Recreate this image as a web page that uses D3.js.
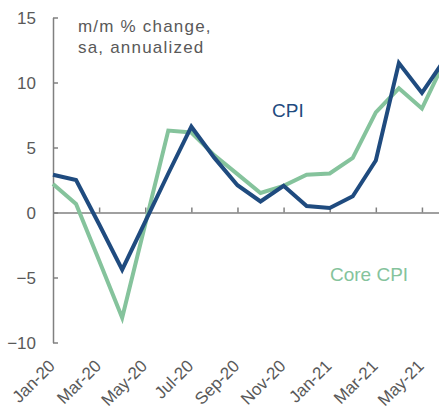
<!DOCTYPE html>
<html>
<head>
<meta charset="utf-8">
<script src="https://cdn.jsdelivr.net/npm/d3@7"></script>
<style>
  body { margin: 0; background: #ffffff; }
  svg { display: block; overflow: hidden; }
  .axis text { font-family: "Liberation Sans", Arial, sans-serif; font-size: 17px; fill: #595959; }
  .axis path, .axis line { stroke: #808080; stroke-width: 1.5px; }
</style>
</head>
<body>
<script>
// months on the x axis
var months = ["Jan-20", "Feb-20", "Mar-20", "Apr-20", "May-20", "Jun-20", "Jul-20", "Aug-20", "Sep-20",
  "Oct-20", "Nov-20", "Dec-20", "Jan-21", "Feb-21", "Mar-21", "Apr-21", "May-21", "Jun-21"];

// m/m % change, sa, annualized
var cpi = [2.9, 2.5, -0.9, -4.4, -0.7, 3.0, 6.6, 4.2, 2.1, 0.85, 2.05, 0.5, 0.35, 1.25, 4.0, 11.5, 9.2, 11.8];
var coreCpi = [2.2, 0.65, -3.7, -8.1, -0.9, 6.3, 6.15, 4.4, 2.95, 1.5, 2.05, 2.9, 3.0, 4.2, 7.7, 9.55, 8.0, 11.7];

// axis ticks
var yTicks = [-10, -5, 0, 5, 10, 15];
var xTicks = ["Jan-20", "Mar-20", "May-20", "Jul-20", "Sep-20", "Nov-20", "Jan-21", "Mar-21", "May-21"];

var width = 439;
var height = 406;
var blue = "#1f4b7f";
var green = "#85c39c";

var svg = d3.select("body").append("svg")
    .attr("width", width)
    .attr("height", height);

// scales (the last month runs past the right edge, like the original)
var xScale = d3.scalePoint()
    .domain(months)
    .range([53, 445]);

var yScale = d3.scaleLinear()
    .domain([-10, 15])
    .range([342.5, 17.5]);

// y axis, ticks pointing inwards
var yAxis = svg.append("g")
    .attr("class", "axis")
    .attr("transform", "translate(53,0)")
    .call(d3.axisLeft(yScale).tickValues(yTicks).tickSizeInner(-5).tickSizeOuter(0).tickPadding(17));
yAxis.selectAll("text").attr("dy", "0.36em");

// x axis at zero, ticks pointing up, labels at the bottom
var xAxis = svg.append("g")
    .attr("class", "axis")
    .attr("transform", "translate(0," + yScale(0) + ")")
    .call(d3.axisBottom(xScale).tickValues(xTicks.slice(1)).tickSizeInner(-5).tickSizeOuter(0).tickFormat(""));

svg.append("g")
    .attr("class", "axis")
    .selectAll("text")
    .data(xTicks)
    .enter()
    .append("text")
    .attr("transform", function(d) { return "translate(" + (xScale(d) + 3) + ",367) rotate(-45)"; })
    .style("text-anchor", "end")
    .text(function(d) { return d; });

// lines
var line = d3.line()
    .x(function(d, i) { return xScale(months[i]); })
    .y(function(d) { return yScale(d); });

svg.append("path")
    .datum(coreCpi)
    .attr("d", line)
    .attr("fill", "none")
    .attr("stroke", green)
    .attr("stroke-width", 4);

svg.append("path")
    .datum(cpi)
    .attr("d", line)
    .attr("fill", "none")
    .attr("stroke", blue)
    .attr("stroke-width", 4);

// annotations
var note = svg.append("text")
    .attr("x", 78)
    .attr("y", 32)
    .style("font-family", "'Liberation Sans', Arial, sans-serif")
    .style("font-size", "17px")
    .style("letter-spacing", "1.2px")
    .style("fill", "#595959");
note.append("tspan").attr("x", 78).attr("y", 32).text("m/m % change,");
note.append("tspan").attr("x", 78).attr("y", 53).text("sa, annualized");

svg.append("text")
    .attr("x", 272)
    .attr("y", 117)
    .style("font-family", "'Liberation Sans', Arial, sans-serif")
    .style("font-size", "19px")
    .style("fill", blue)
    .text("CPI");

svg.append("text")
    .attr("x", 330)
    .attr("y", 281)
    .style("font-family", "'Liberation Sans', Arial, sans-serif")
    .style("font-size", "19px")
    .style("fill", green)
    .text("Core CPI");
</script>
</body>
</html>
